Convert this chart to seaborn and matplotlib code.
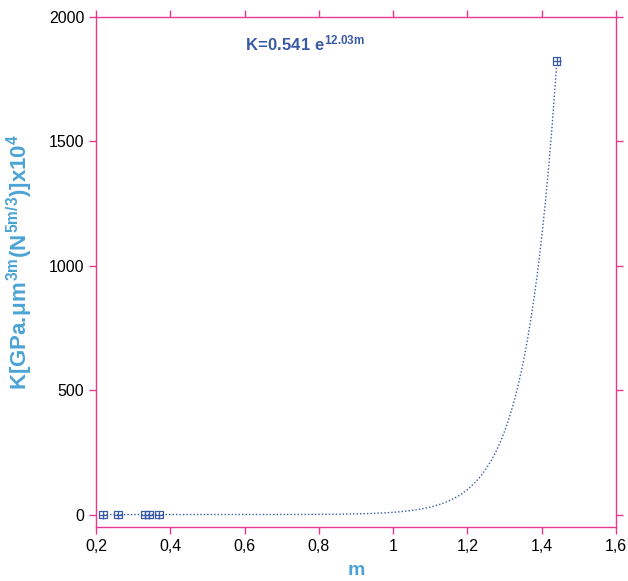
import numpy as np
import pandas as pd
import seaborn as sns
import matplotlib
matplotlib.use("Agg")
import matplotlib.pyplot as plt

# measured points (m, K in GPa.um^3m (N^5m/3) x10^4)
m_vals = [0.219, 0.259, 0.332, 0.343, 0.370, 1.440]
k_vals = [0.0, 0.0, 0.0, 0.0, 0.0, 1823.0]

# fitted law shown on the chart: K = 0.541 e^(12.03 m), in units of 1e4
fit_a = 0.541
fit_b = 12.03
fit_scale = 1e4

x_ticks = [0.2, 0.4, 0.6, 0.8, 1.0, 1.2, 1.4, 1.6]
x_labels = ["0,2", "0,4", "0,6", "0,8", "1", "1,2", "1,4", "1,6"]
y_ticks = [0, 500, 1000, 1500, 2000]

pink = "#e8388f"
blue = "#3a5aa8"
light_blue = "#4ba3d6"

sns.set_style("ticks")
plt.rcParams["font.family"] = ["Liberation Sans", "DejaVu Sans"]
plt.rcParams["mathtext.fontset"] = "custom"
plt.rcParams["mathtext.rm"] = "Liberation Sans:bold"
plt.rcParams["mathtext.it"] = "Liberation Sans:bold"
plt.rcParams["mathtext.bf"] = "Liberation Sans:bold"

fig = plt.figure(figsize=(6.28, 5.81), dpi=100)
ax = fig.add_axes([0.1529, 0.0929, 0.828, 0.878])

pts = pd.DataFrame({"m": m_vals, "K": k_vals})
mm = np.linspace(min(m_vals), max(m_vals), 300)
fit = pd.DataFrame({"m": mm, "K": fit_a * np.exp(fit_b * mm) / fit_scale})

sns.lineplot(data=fit, x="m", y="K", ax=ax, color=blue, lw=1.0,
             linestyle=(0, (1, 1.5)))
sns.scatterplot(data=pts, x="m", y="K", ax=ax, marker="s", s=30,
                facecolor="none", edgecolor=blue, linewidth=0.9, zorder=5)
sns.scatterplot(data=pts, x="m", y="K", ax=ax, marker="+", s=30,
                color=blue, linewidth=0.9, zorder=6)

ax.set_xlim(0.2, 1.6)
ax.set_ylim(-50, 2000)
ax.set_xticks(x_ticks)
ax.set_xticklabels(x_labels)
ax.set_yticks(y_ticks)

for s in ax.spines.values():
    s.set_visible(True)
    s.set_color(pink)
    s.set_linewidth(1.0)
ax.tick_params(axis="both", which="both", direction="out", length=5,
               width=1.0, color=pink, labelsize=11.5, labelcolor="black",
               top=True, right=True, labeltop=False, labelright=False)

ax.set_xlabel("m", fontsize=14, fontweight="bold", color=light_blue, labelpad=6)
ax.set_ylabel(r"$K[GPa.\!μm^{3m}(N^{5m/3})]x10^{4}$", fontsize=16,
              color=light_blue)
ax.yaxis.set_label_coords(-0.118, 0.52)

ax.text(0.287, 0.935, r"$K\!=\!0.541\ e^{12.03m}$", transform=ax.transAxes,
        fontsize=12, color=blue, va="baseline", ha="left")

fig.savefig("out.png", dpi=100)
